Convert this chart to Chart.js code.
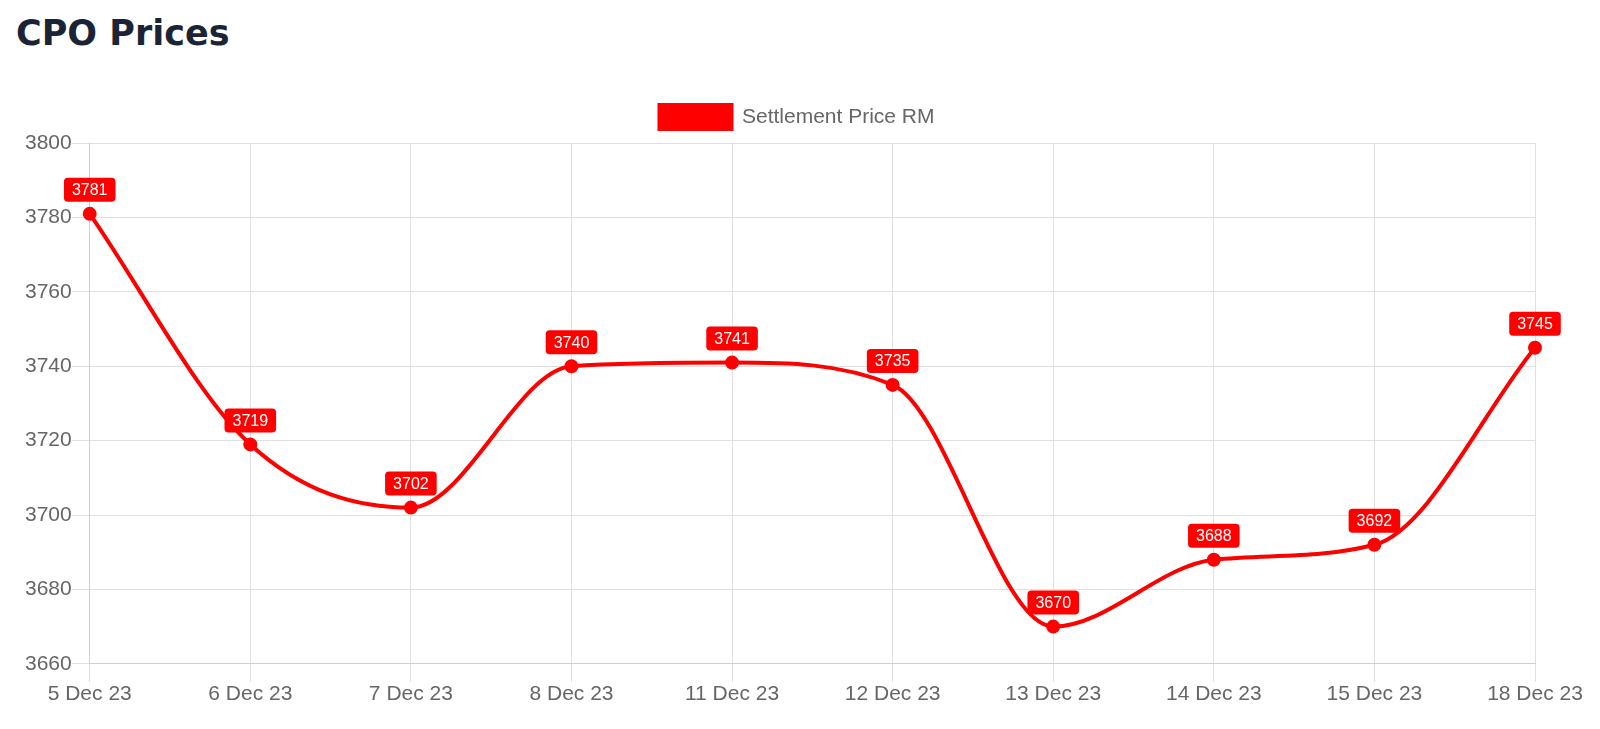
<!DOCTYPE html>
<html>
<head>
<meta charset="utf-8">
<script src="https://cdn.jsdelivr.net/npm/chart.js@4"></script>
<style>
  body { margin: 0; background: #fff; overflow: hidden; }
  h2 { position: absolute; left: 16px; top: 13px; margin: 0; font-family: "DejaVu Sans", sans-serif; font-weight: 700; font-size: 35px; color: #1b2434; }
  #wrap { position: absolute; left: 0; top: 84px; width: 1600px; height: 645px; }
</style>
</head>
<body>
<h2>CPO Prices</h2>
<div id="wrap"><canvas id="canvas"></canvas></div>
<script>
// data
var dates = ["5 Dec 23", "6 Dec 23", "7 Dec 23", "8 Dec 23", "11 Dec 23", "12 Dec 23", "13 Dec 23", "14 Dec 23", "15 Dec 23", "18 Dec 23"];
var prices = [3781, 3719, 3702, 3740, 3741, 3735, 3670, 3688, 3692, 3745];
var yTicks = [3660, 3680, 3700, 3720, 3740, 3760, 3780, 3800];

var fontFamily = "'Liberation Sans', Arial, sans-serif";

// value labels drawn above each point
var valueLabels = {
	id: "valueLabels",
	afterDatasetsDraw: function(chart) {
		var ctx = chart.ctx;
		var meta = chart.getDatasetMeta(0);
		ctx.save();
		ctx.font = "16px " + fontFamily;
		ctx.textAlign = "center";
		ctx.textBaseline = "middle";
		meta.data.forEach(function(pt, i) {
			var txt = String(prices[i]);
			var w = ctx.measureText(txt).width + 16;
			var h = 24;
			var x = pt.x - w / 2;
			var y = pt.y - 12 - h;
			ctx.fillStyle = "#ff0000";
			ctx.beginPath();
			ctx.roundRect(x, y, w, h, 4);
			ctx.fill();
			ctx.fillStyle = "#ffffff";
			ctx.fillText(txt, pt.x, y + h / 2 + 1);
		});
		ctx.restore();
	}
};

var ctx = document.getElementById("canvas").getContext("2d");
var chart = new Chart(ctx, {
	type: "line",
	data: {
		labels: dates,
		datasets: [{
			label: "Settlement Price RM",
			data: prices,
			borderColor: "#ff0000",
			backgroundColor: "#ff0000",
			borderWidth: 4,
			pointRadius: 5,
			pointBackgroundColor: "#ff0000",
			cubicInterpolationMode: "monotone",
			fill: false
		}]
	},
	options: {
		responsive: true,
		maintainAspectRatio: false,
		animation: false,
		layout: { padding: { left: 25, right: 31, top: 0, bottom: 22 } },
		plugins: {
			legend: {
				labels: {
					boxWidth: 72,
					boxHeight: 24,
					color: "#666",
					font: { size: 21, family: fontFamily },
					padding: 21
				}
			},
			// empty spacer box between legend and plot
			title: {
				display: true,
				text: "",
				weight: 500,
				font: { size: 1 },
				padding: { top: 0, bottom: 3 }
			},
			tooltip: { enabled: false }
		},
		scales: {
			x: {
				grid: { color: "#e0e0e0", tickLength: 18 },
				border: { color: "#cfcfcf" },
				ticks: { color: "#666", font: { size: 21, family: fontFamily }, maxRotation: 0, padding: 0 },
				afterFit: function(scale) {
					// keep the plot's right edge further in than the legend's
					scale.paddingRight = 65;
				}
			},
			y: {
				min: yTicks[0],
				max: yTicks[yTicks.length - 1],
				grid: { color: "#e0e0e0", tickLength: 18 },
				border: { color: "#cfcfcf" },
				afterBuildTicks: function(axis) {
					axis.ticks = yTicks.map(function(v) { return { value: v }; });
				},
				ticks: {
					color: "#666",
					font: { size: 21, family: fontFamily },
					padding: 0,
					callback: function(v) { return String(v); }
				}
			}
		}
	},
	plugins: [valueLabels]
});
</script>
</body>
</html>
